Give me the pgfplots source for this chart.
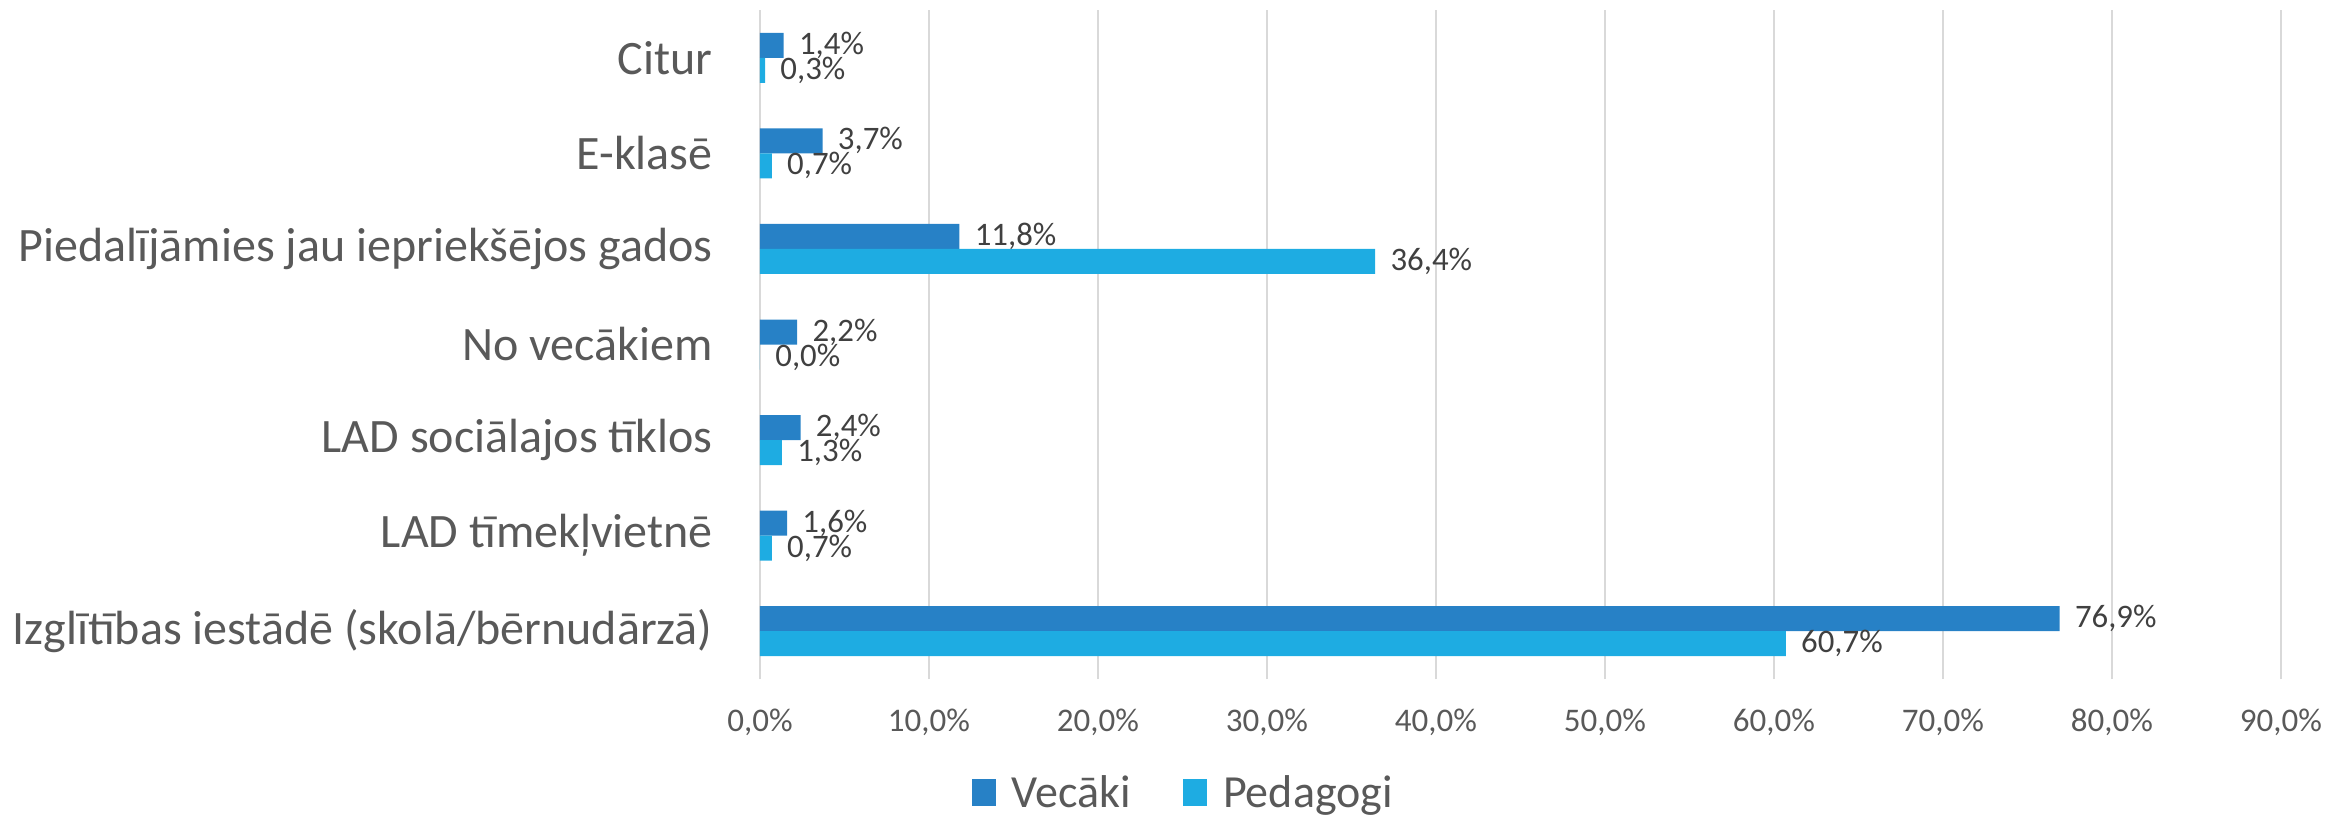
\documentclass[border=0pt]{standalone}
\usepackage{fontspec}
\setmainfont{Carlito}
\usepackage{pgfplots}
\pgfplotsset{compat=1.18}
\definecolor{vec}{RGB}{39,129,198}
\definecolor{ped}{RGB}{30,172,226}
\definecolor{gridc}{RGB}{217,217,217}
\definecolor{lab}{RGB}{89,89,89}
\definecolor{dlab}{RGB}{64,64,64}
\begin{document}
\begin{tikzpicture}
\useasboundingbox (-380pt,-69.5pt) rectangle (794pt,339.5pt);
\begin{axis}[
 at={(0,0)}, anchor=south west,
 scale only axis, width=760.5pt, height=334.5pt,
 xbar, bar width=12.5pt,
 xmin=0, xmax=90, ymin=-0.5, ymax=6.5,
 xtick={0,10,...,90},
 ytick={0,...,6},
 yticklabels={Izglītības iestādē (skolā/bērnudārzā), LAD tīmekļvietnē, LAD sociālajos tīklos, No vecākiem, Piedalījāmies jau iepriekšējos gados, E-klasē, Citur},
 xmajorgrids, major grid style={draw=gridc, line width=1pt},
 axis line style={draw=none},
 major tick length=0pt,
 /pgf/number format/assume math mode=true,
 xticklabel={\pgfmathprintnumber[fixed,fixed zerofill,precision=1,use comma]{\tick}\%},
 xticklabel style={font=\fontsize{16.5pt}{19pt}\selectfont, text=lab, inner sep=0pt, anchor=center, yshift=-21.5pt},
 yticklabel style={font=\fontsize{24pt}{28pt}\selectfont, text=lab, inner sep=0pt, anchor=east, xshift=-23.5pt},
 point meta=x,
 nodes near coords={\pgfmathprintnumber[fixed,fixed zerofill,precision=1,use comma]{\pgfplotspointmeta}\%},
 nodes near coords style={font=\fontsize{16.4pt}{19pt}\selectfont, text=dlab, inner sep=0pt, anchor=west, xshift=7.5pt},
 legend style={at={(0.279,-0.170)}, anchor=center, draw=none, fill=none, legend columns=-1,
   font=\fontsize{23pt}{27pt}\selectfont, text=lab,
   /tikz/every odd column/.append style={column sep=6pt},
   /tikz/every even column/.append style={column sep=24pt}},
 legend image code/.code={\fill[#1] (0pt,-6.75pt) rectangle (12pt,6.75pt);},
]
\addplot[fill=vec, draw=none, bar shift=6.25pt] coordinates {
 (76.9,0) (1.6,1) (2.4,2) (2.2,3) (11.8,4) (3.7,5) (1.4,6)};
\addlegendentry{Vecāki}
\addplot[fill=ped, draw=none, bar shift=-6.25pt] coordinates {
 (60.7,0) (0.7,1) (1.3,2) (0.0,3) (36.4,4) (0.7,5) (0.3,6)};
\addlegendentry{Pedagogi}
\end{axis}
\end{tikzpicture}
\end{document}
